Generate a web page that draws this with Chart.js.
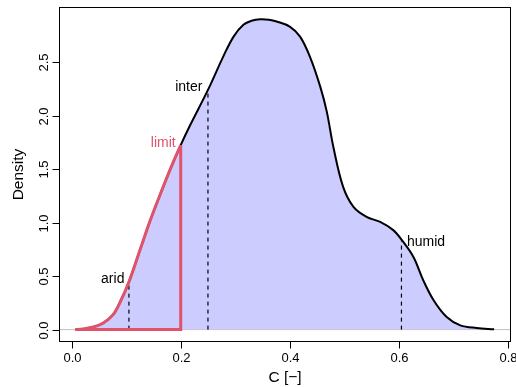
<!DOCTYPE html>
<html>
<head>
<meta charset="utf-8">
<script src="https://cdn.jsdelivr.net/npm/chart.js@4/dist/chart.umd.min.js"></script>
<style>
  html, body { margin: 0; padding: 0; background: #fff; }
  #wrap { width: 516px; height: 387px; }
</style>
</head>
<body>
<div id="wrap"><canvas id="c" width="516" height="387"></canvas></div>
<script>
// ---- data ----
const densX = [0.007,0.02,0.04,0.058,0.076,0.09,0.105,0.125,0.144,0.162,0.18,0.2,0.217,0.25,0.278,0.297,0.315,0.33,0.346,0.362,0.376,0.40,0.419,0.437,0.456,0.468,0.48,0.498,0.517,0.541,0.566,0.59,0.605,0.627,0.645,0.664,0.688,0.713,0.743,0.775];
const densY = [0.0,0.006,0.024,0.062,0.14,0.27,0.446,0.74,1.02,1.26,1.49,1.727,1.91,2.243,2.555,2.742,2.852,2.89,2.905,2.90,2.883,2.836,2.742,2.555,2.274,2.04,1.711,1.336,1.149,1.055,1.008,0.931,0.843,0.68,0.462,0.275,0.118,0.04,0.015,0.003];
const limitX = 0.2;
const markX = [0.105, 0.25, 0.605];
const markY = [0.446, 2.243, 0.843];
const labelText = ['arid', 'limit', 'inter', 'humid'];
const labelX = [0.105, 0.2, 0.25, 0.605];
const labelY = [0.446, 1.727, 2.243, 0.843];
const xTicks = [0.0, 0.2, 0.4, 0.6, 0.8];
const yTicks = [0.0, 0.5, 1.0, 1.5, 2.0, 2.5];
const xTitle = 'C [\u2212]';
const yTitle = 'Density';
const xRange = [-0.0233, 0.806];
const yRange = [-0.116, 3.019];

// ---- build datasets ----
const densPts = densX.map((x, i) => ({ x, y: densY[i] }));
const redCurve = densPts.filter(p => p.x <= limitX + 1e-9);
const limitY = redCurve[redCurve.length - 1].y;
const redClose = [{ x: limitX, y: limitY }, { x: limitX, y: 0 }, { x: densX[0], y: 0 }];

const RED = '#DF536B';
const FONT = '"Liberation Sans", Arial, Helvetica, sans-serif';
const TENSION = 0.35;

const datasets = [
  { data: redCurve, borderColor: RED, borderWidth: 3, tension: TENSION, fill: false, order: 0 },
  { data: redClose, borderColor: RED, borderWidth: 3, tension: 0, fill: false, order: 1, borderJoinStyle: 'miter' },
];
markX.forEach((mx, i) => {
  datasets.push({ data: [{ x: mx, y: 0 }, { x: mx, y: markY[i] }], borderColor: '#000', borderWidth: 1.2, borderDash: [4, 4], tension: 0, fill: false, order: 2 });
});
datasets.push({ data: densPts, borderColor: '#000', borderWidth: 2, backgroundColor: '#CCCCFF', fill: 'origin', tension: TENSION, order: 3 });
datasets.push({ data: [{ x: xRange[0], y: 0 }, { x: xRange[1], y: 0 }], borderColor: '#BEBEBE', borderWidth: 1, tension: 0, fill: false, order: 4 });
datasets.forEach(d => { d.showLine = true; d.pointRadius = 0; d.pointHoverRadius = 0; });

const decor = {
  id: 'decor',
  afterDraw(chart) {
    const { ctx, chartArea: a, scales: { x, y } } = chart;
    ctx.save();
    ctx.strokeStyle = '#000';
    ctx.lineWidth = 1;
    const L = Math.round(a.left) + 0.5, T = Math.round(a.top) + 0.5;
    const R = Math.round(a.right) - 0.5, B = Math.round(a.bottom) - 0.5;
    ctx.strokeRect(L, T, R - L, B - T);
    ctx.fillStyle = '#000';
    ctx.font = '13px ' + FONT;
    // x ticks
    ctx.textAlign = 'center';
    ctx.textBaseline = 'alphabetic';
    xTicks.forEach(v => {
      const px = Math.round(x.getPixelForValue(v)) + 0.5;
      ctx.beginPath(); ctx.moveTo(px, B); ctx.lineTo(px, B + 7); ctx.stroke();
      ctx.fillText(v.toFixed(1), px, B + 20);
    });
    // y ticks (rotated labels)
    yTicks.forEach(v => {
      const py = Math.round(y.getPixelForValue(v)) + 0.5;
      ctx.beginPath(); ctx.moveTo(L, py); ctx.lineTo(L - 7, py); ctx.stroke();
      ctx.save();
      ctx.translate(L - 12, py);
      ctx.rotate(-Math.PI / 2);
      ctx.fillText(v.toFixed(1), 0, 0);
      ctx.restore();
    });
    // titles
    ctx.font = '15.5px ' + FONT;
    ctx.fillText(xTitle, (a.left + a.right) / 2, 382);
    ctx.save();
    ctx.translate(23, (a.top + a.bottom) / 2);
    ctx.rotate(-Math.PI / 2);
    ctx.fillText(yTitle, 0, 0);
    ctx.restore();
    // point labels
    ctx.font = '14px ' + FONT;
    const style = {
      arid:  { align: 'right', dx: -4.5, dy: 1, color: '#000' },
      limit: { align: 'right', dx: -5, dy: 2, color: RED },
      inter: { align: 'right', dx: -5.5, dy: 1, color: '#000' },
      humid: { align: 'left',  dx: 5.5, dy: 6.5, color: '#000' }
    };
    labelText.forEach((t, i) => {
      const s = style[t];
      ctx.fillStyle = s.color;
      ctx.textAlign = s.align;
      ctx.fillText(t, x.getPixelForValue(labelX[i]) + s.dx, y.getPixelForValue(labelY[i]) + s.dy);
    });
    ctx.restore();
  }
};

new Chart(document.getElementById('c'), {
  type: 'scatter',
  data: { datasets },
  options: {
    responsive: false,
    animation: false,
    events: [],
    layout: { padding: { left: 59, top: 7, right: 5, bottom: 45 } },
    plugins: { legend: { display: false }, tooltip: { enabled: false } },
    scales: {
      x: { type: 'linear', min: xRange[0], max: xRange[1], display: false },
      y: { type: 'linear', min: yRange[0], max: yRange[1], display: false }
    }
  },
  plugins: [decor]
});
</script>
</body>
</html>
